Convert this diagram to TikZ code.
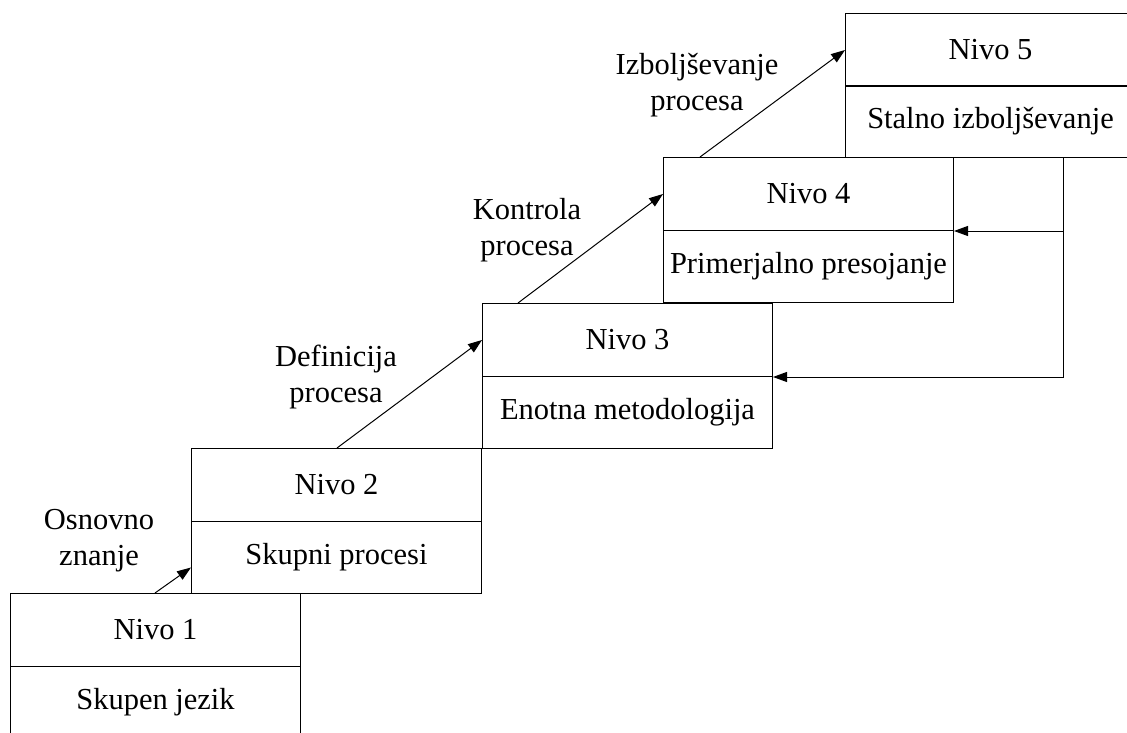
\documentclass[tikz,border=0pt]{standalone}
\usepackage{fontspec}
\setmainfont{Liberation Serif}
\usetikzlibrary{arrows.meta}
\begin{document}
\begin{tikzpicture}[x=1pt,y=-1pt,
  txt/.style={font=\fontsize{30.5}{36}\selectfont},
  cell/.style={draw, line width=1pt, minimum width=290pt, inner sep=0pt,
               anchor=north west, txt},
  head/.style={cell, minimum height=73pt},
  body/.style={cell, minimum height=72pt},
  lbl/.style={txt, align=center, anchor=base, inner sep=0pt},
  arr/.style={line width=1pt, -{Triangle[length=14pt,width=10pt]}}]
\clip (0,0) rectangle (1127,733);

% level boxes: title cell on top, description cell below
\node[head] (n1t) at (10,593)  {Nivo 1};
\node[body] (n1b) at (10,666)  {Skupen jezik};
\node[head] (n2t) at (191,448) {Nivo 2};
\node[body] (n2b) at (191,521) {Skupni procesi};
\node[head] (n3t) at (482,303) {Nivo 3};
\node[body] (n3b) at (482,376) {Enotna metodologija};
\node[head] (n4t) at (663,157) {Nivo 4};
\node[body] (n4b) at (663,230) {Primerjalno presojanje};
\node[head] (n5t) at (845,13)  {Nivo 5};
\node[body] (n5b) at (845,85)  {Stalno izboljševanje};

% step labels (anchored on the baseline of their last line)
\node[lbl] (l1) at (99,565)  {Osnovno\\znanje};
\node[lbl] (l2) at (336,402) {Definicija\\procesa};
\node[lbl] (l3) at (527,255) {Kontrola\\procesa};
\node[lbl] (l4) at (697,111) {Izboljševanje\\procesa};

% upward steps
\draw[arr] ([xshift=145pt]n1t.north west) -- ([yshift=-10pt]n2b.west);
\draw[arr] ([xshift=146pt]n2t.north west) -- (n3t.west);
\draw[arr] ([xshift=36pt]n3t.north west) -- (n4t.west);
\draw[arr] ([xshift=37pt]n4t.north west) -- (n5t.west);

% feedback from level 5
\coordinate (fb) at ([xshift=218pt]n5b.south west);
\draw[arr] (fb) |- (n3t.south east);
\draw[arr] (fb |- n4t.south east) -- (n4t.south east);
\end{tikzpicture}
\end{document}
